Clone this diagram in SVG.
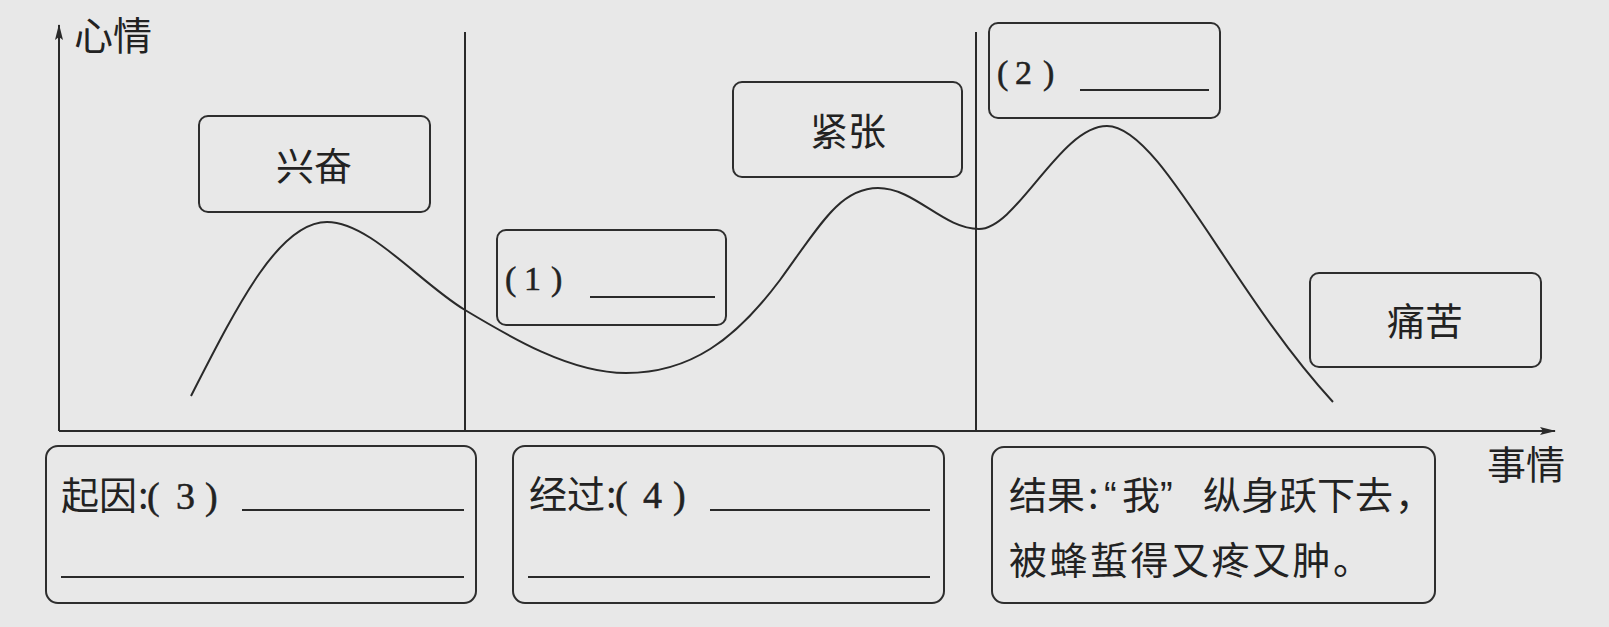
<svg xmlns="http://www.w3.org/2000/svg" width="1609" height="627" viewBox="0 0 1609 627">
<style>
.bg{fill:#e8e8e8}
.box{fill:none;stroke:#2e2e2e;stroke-width:2}
.ln{fill:none;stroke:#2a2a2a;stroke-width:2}
.ul{stroke:#2a2a2a;stroke-width:2}
.cjk{font-family:"Noto Sans CJK SC","Noto Sans",sans-serif;fill:#222}
.ser{font-family:"Liberation Serif","Noto Serif",serif;fill:#222;stroke:#222;stroke-width:0.5}
.lat{font-family:"Liberation Sans",sans-serif;fill:#222}
</style>
<defs>
<marker id="arr" viewBox="0 0 16 10" refX="15" refY="5" markerWidth="16" markerHeight="10" markerUnits="userSpaceOnUse" orient="auto">
<path d="M0 1 L16 5 L0 9 L3 5 Z" fill="#2a2a2a"/>
</marker>
</defs>
<rect class="bg" x="0" y="0" width="1609" height="627"/>

<g id="axes">
<line class="ln" x1="59" y1="431" x2="59" y2="25" marker-end="url(#arr)"/>
<line class="ln" x1="59" y1="431" x2="1555" y2="431" marker-end="url(#arr)"/>
<line class="ln" x1="465" y1="32" x2="465" y2="431"/>
<line class="ln" x1="976" y1="32" x2="976" y2="431"/>
<text class="cjk" x="74" y="50" font-size="39">心情</text>
<text class="cjk" x="1487" y="479" font-size="39">事情</text>
</g>

<g id="connectors">
<path class="ln" d="M191 396 C240 300 280 222 327 222 C370 222 420 283 465 310 C510 337 570 373 626 373 C690 373 735 340 780 280 C820 225 840 188 878 188 C915 188 943 229 979 229 C1017 229 1060 126 1107 126 C1160 126 1230 290 1333 402"/>
</g>

<g id="node-xingfen">
<rect class="box" x="199" y="116" width="231" height="96" rx="9"/>
<text class="cjk" x="314" y="180" font-size="38" text-anchor="middle">兴奋</text>
</g>

<g id="node-1">
<rect class="box" x="497" y="230" width="229" height="95" rx="9"/>
<text class="ser" y="290" font-size="34"><tspan x="505">(</tspan><tspan x="524">1</tspan><tspan x="551">)</tspan></text>
<line class="ul" x1="590" y1="297" x2="715" y2="297"/>
</g>

<g id="node-jinzhang">
<rect class="box" x="733" y="82" width="229" height="95" rx="9"/>
<text class="cjk" x="848" y="145" font-size="38" text-anchor="middle">紧张</text>
</g>

<g id="node-2">
<rect class="box" x="989" y="23" width="231" height="95" rx="9"/>
<text class="ser" y="84" font-size="34"><tspan x="997">(</tspan><tspan x="1015">2</tspan><tspan x="1043">)</tspan></text>
<line class="ul" x1="1080" y1="90" x2="1209" y2="90"/>
</g>

<g id="node-tongku">
<rect class="box" x="1310" y="273" width="231" height="94" rx="9"/>
<text class="cjk" x="1425" y="335" font-size="38" text-anchor="middle">痛苦</text>
</g>

<g id="node-qiyin">
<rect class="box" x="46" y="446" width="430" height="157" rx="12"/>
<text y="509" font-size="38"><tspan class="cjk" x="61">起因</tspan><tspan class="cjk" x="138">:</tspan><tspan class="ser" x="147" font-size="38">(</tspan><tspan class="ser" x="176" font-size="38">3</tspan><tspan class="ser" x="205" font-size="38">)</tspan></text>
<line class="ul" x1="242" y1="510" x2="464" y2="510"/>
<line class="ul" x1="61" y1="577" x2="464" y2="577"/>
</g>

<g id="node-jingguo">
<rect class="box" x="513" y="446" width="431" height="157" rx="12"/>
<text y="508" font-size="38"><tspan class="cjk" x="529">经过</tspan><tspan class="cjk" x="606">:</tspan><tspan class="ser" x="615" font-size="38">(</tspan><tspan class="ser" x="643" font-size="38">4</tspan><tspan class="ser" x="673" font-size="38">)</tspan></text>
<line class="ul" x1="710" y1="510" x2="930" y2="510"/>
<line class="ul" x1="528" y1="577" x2="930" y2="577"/>
</g>

<g id="node-jieguo">
<rect class="box" x="992" y="447" width="443" height="156" rx="12"/>
<text y="509" font-size="38"><tspan class="cjk" x="1009">结果</tspan><tspan class="cjk" x="1088">:</tspan><tspan class="lat" x="1104">“</tspan><tspan class="cjk" x="1122">我</tspan><tspan class="lat" x="1160">”</tspan><tspan class="cjk" x="1203">纵身跃下去</tspan><tspan class="cjk" x="1395">，</tspan></text>
<text class="cjk" x="1009" y="574" font-size="38" letter-spacing="2.5">被蜂蜇得又疼又肿。</text>
</g>
</svg>
